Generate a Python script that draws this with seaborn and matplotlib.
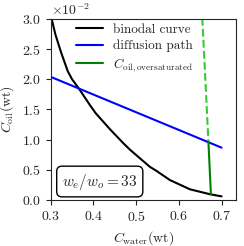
import numpy as np
import pandas as pd
import matplotlib
matplotlib.use('Agg')
import matplotlib.pyplot as plt
import seaborn as sns

# values (concentrations as weight fractions)
binodal_water = [0.300, 0.311, 0.324, 0.340, 0.350, 0.3655, 0.392, 0.405,
                 0.439, 0.470, 0.486, 0.532, 0.548, 0.579, 0.626, 0.673, 0.700]
binodal_oil = [0.0306, 0.0274, 0.0245, 0.0213, 0.0200, 0.0185, 0.0157, 0.0144,
               0.0117, 0.0094, 0.0083, 0.0055, 0.0048, 0.0033, 0.00177,
               0.00095, 0.0006]

path_water = [0.30, 0.70]
path_oil = [0.0204, 0.00867]

oversat_water = [0.669, 0.675]
oversat_oil = [0.0098, 0.0009]

oversat_ext_water = [0.6535, 0.669]
oversat_ext_oil = [0.0320, 0.0098]

ratio_label = r'$w_e/w_o = 33$'

sns.set_style('ticks')
plt.rcParams['font.family'] = 'serif'
plt.rcParams['font.serif'] = ['cmr10']
plt.rcParams['mathtext.fontset'] = 'cm'
plt.rcParams['axes.formatter.use_mathtext'] = True
plt.rcParams['axes.unicode_minus'] = False
plt.rcParams['font.size'] = 10

fig = plt.figure(figsize=(2.44, 2.46), dpi=100)
ax = fig.add_axes([0.208, 0.187, 0.758, 0.736])

binodal = pd.DataFrame({'water': binodal_water, 'oil': binodal_oil})
path = pd.DataFrame({'water': path_water, 'oil': path_oil})
oversat = pd.DataFrame({'water': oversat_water, 'oil': oversat_oil})
oversat_ext = pd.DataFrame({'water': oversat_ext_water, 'oil': oversat_ext_oil})

sns.lineplot(data=binodal, x='water', y='oil', color='black', lw=1.5,
             sort=False, label='binodal curve', ax=ax)
sns.lineplot(data=path, x='water', y='oil', color='blue', lw=1.5,
             sort=False, label='diffusion path', ax=ax)
sns.lineplot(data=oversat, x='water', y='oil', color='green', lw=1.5,
             sort=False, label=r'$C_{\mathrm{oil,oversaturated}}$', ax=ax)
sns.lineplot(data=oversat_ext, x='water', y='oil', color='limegreen', lw=1.5,
             sort=False, ls='--', ax=ax)

ax.set_xlim(0.3, 0.733)
ax.set_ylim(0, 0.03)
ax.set_xticks([0.3, 0.4, 0.5, 0.6, 0.7])
ax.ticklabel_format(style='sci', axis='y', scilimits=(0, 0))
ax.set_xlabel(r'$C_{\mathrm{water}}(\mathrm{wt})$')
ax.set_ylabel(r'$C_{\mathrm{oil}}(\mathrm{wt})$')

ax.legend(loc='upper center', bbox_to_anchor=(0.455, 1.012), frameon=False,
          borderaxespad=0.1, labelspacing=0.3, fontsize=9.5)

ax.text(0.265, 0.102, ratio_label, transform=ax.transAxes, ha='center',
        va='center', fontsize=11,
        bbox=dict(boxstyle='round,pad=0.35', fc='white', ec='black', lw=1))

fig.savefig('out.png', dpi=100)
